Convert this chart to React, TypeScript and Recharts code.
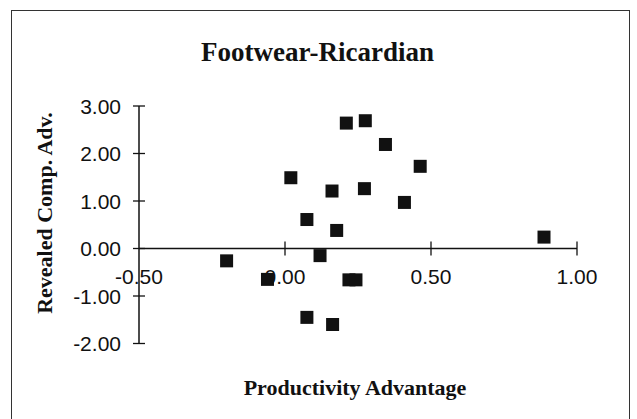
import React from "react";
import {
  ScatterChart,
  Scatter,
  XAxis,
  YAxis,
  ReferenceLine,
} from "recharts";

// ========================================
// DATA
// ========================================

const productivityAdvantage = [
  -0.2, -0.06, 0.02, 0.075, 0.075, 0.12, 0.21, 0.275, 0.344, 0.463, 0.161, 0.272,
  0.409, 0.177, 0.887, 0.219, 0.243, 0.163,
];
const revealedCompAdv = [
  -0.26, -0.65, 1.49, 0.61, -1.45, -0.15, 2.64, 2.69, 2.19, 1.73, 1.21, 1.26,
  0.97, 0.38, 0.24, -0.66, -0.66, -1.6,
];
const xTicks = [-0.5, 0, 0.5, 1];
const yTicks = [-2, -1, 0, 1, 2, 3];

const points = productivityAdvantage.map((x, i) => ({ x, y: revealedCompAdv[i] }));

// ========================================
// LAYOUT
// ========================================

const W = 637;
const H = 419;
const Y_AXIS_W = 60;
const PLOT_LEFT = 139;
const PLOT_TOP = 106;
const PLOT_H = 237.5;
const ZERO_Y = PLOT_TOP + PLOT_H * (3 / 5);
const INK = "#111";
const SERIF = "'Liberation Serif', 'Times New Roman', serif";
const SANS = "'Liberation Sans', Arial, sans-serif";

function SquareDot(props: any) {
  const { cx, cy } = props;
  if (cx == null || cy == null) return null;
  return <rect x={cx - 6.5} y={cy - 6.5} width={13} height={13} fill={INK} />;
}

// x labels sit below the zero line, with cross tick marks on it
function XTick(props: any) {
  const { x, payload } = props;
  return (
    <g>
      {payload.value !== -0.5 && (
        <line x1={x} x2={x} y1={ZERO_Y - 7} y2={ZERO_Y + 7} stroke={INK} strokeWidth={1.3} />
      )}
      <text x={x} y={ZERO_Y + 35.5} textAnchor="middle" fontFamily={SANS} fontSize={21} fill={INK}>
        {payload.value.toFixed(2)}
      </text>
    </g>
  );
}

function YTick(props: any) {
  const { y, payload } = props;
  return (
    <g>
      <line x1={PLOT_LEFT - 6} x2={PLOT_LEFT + 6} y1={y} y2={y} stroke={INK} strokeWidth={1.3} />
      <text x={PLOT_LEFT - 18} y={y} dy="0.36em" textAnchor="end" fontFamily={SANS} fontSize={21} fill={INK}>
        {payload.value.toFixed(2)}
      </text>
    </g>
  );
}

export default function App() {
  return (
    <div style={{ position: "absolute", left: 0, top: 0, width: W, height: H, background: "#fff" }}>
      {/* frame */}
      <div
        style={{
          position: "absolute",
          left: 11,
          top: 10,
          width: 619,
          height: 430,
          border: "1.5px solid #333",
          boxSizing: "border-box",
        }}
      />

      <ScatterChart
        width={W}
        height={H}
        margin={{ top: PLOT_TOP, right: 60, left: PLOT_LEFT - Y_AXIS_W, bottom: 45.5 }}
        style={{ position: "absolute", left: 0, top: 0 }}
      >
        <XAxis
          type="number"
          dataKey="x"
          domain={[-0.5, 1]}
          ticks={xTicks}
          height={30}
          axisLine={false}
          tickLine={false}
          tick={<XTick />}
          interval={0}
        />
        <YAxis
          type="number"
          dataKey="y"
          domain={[-2, 3]}
          ticks={yTicks}
          width={Y_AXIS_W}
          axisLine={false}
          tickLine={false}
          tick={<YTick />}
          interval={0}
        />

        {/* vertical axis at x = -0.5, horizontal axis crossing at zero */}
        <ReferenceLine x={-0.5} stroke={INK} strokeWidth={1.5} />
        <ReferenceLine y={0} stroke={INK} strokeWidth={1.5} />

        <Scatter data={points} shape={<SquareDot />} isAnimationActive={false} />
      </ScatterChart>

      {/* title and axis titles */}
      <div
        style={{
          position: "absolute",
          left: 0,
          width: W - 2,
          top: 37,
          textAlign: "center",
          fontFamily: SERIF,
          fontWeight: "bold",
          fontSize: 27,
          lineHeight: "30px",
          color: INK,
        }}
      >
        Footwear-Ricardian
      </div>
      <div
        style={{
          position: "absolute",
          left: 245,
          width: 220,
          top: 376,
          whiteSpace: "nowrap",
          fontFamily: SERIF,
          fontWeight: "bold",
          fontSize: 22,
          lineHeight: "24px",
          color: INK,
          display: "flex",
          justifyContent: "center",
        }}
      >
        Productivity Advantage
      </div>
      <div
        style={{
          position: "absolute",
          left: 45 - 120,
          top: 213 - 12,
          width: 240,
          height: 24,
          transform: "rotate(-90deg)",
          textAlign: "center",
          whiteSpace: "nowrap",
          fontFamily: SERIF,
          fontWeight: "bold",
          fontSize: 22,
          lineHeight: "24px",
          color: INK,
        }}
      >
        Revealed Comp. Adv.
      </div>
    </div>
  );
}
